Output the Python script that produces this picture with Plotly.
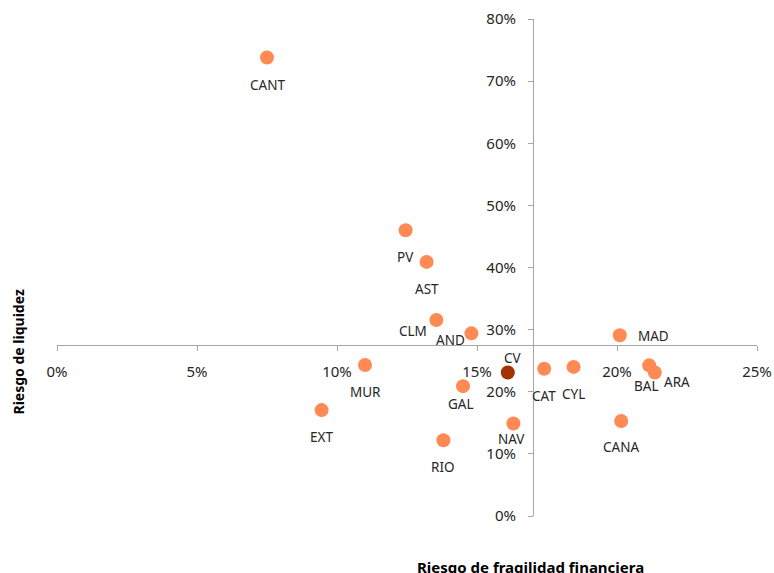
import plotly.graph_objects as go

# ---- data ----
regiones = ["CANT", "PV", "AST", "CLM", "AND", "MAD", "MUR", "CV", "CAT", "CYL",
            "BAL", "ARA", "GAL", "EXT", "CANA", "NAV", "RIO"]
riesgo_fragilidad = [0.075, 0.1245, 0.132, 0.1355, 0.148, 0.201, 0.110, 0.161, 0.174, 0.1845,
                     0.2115, 0.2135, 0.145, 0.0945, 0.2015, 0.163, 0.138]
riesgo_liquidez = [0.738, 0.460, 0.409, 0.3155, 0.294, 0.291, 0.243, 0.231, 0.237, 0.240,
                   0.2425, 0.231, 0.209, 0.1705, 0.153, 0.149, 0.122]
destacada = "CV"
cruce_x = 0.17    # vertical axis crosses here
cruce_y = 0.275   # horizontal axis crosses here
x_ticks = [0, 0.05, 0.10, 0.15, 0.20, 0.25]
y_ticks = [0, 0.1, 0.2, 0.3, 0.4, 0.5, 0.6, 0.7, 0.8]

# ---- styles ----
naranja = "#FF8A53"
granate = "#A33200"
colores = [granate if r == destacada else naranja for r in regiones]
# label offsets in pixels (dx, dy downwards)
label_off = {
    "CANT": (0, 27), "PV": (0, 27), "AST": (0, 27), "CLM": (-23, 11), "AND": (-21, 7),
    "MAD": (34, 1), "MUR": (0, 27), "CV": (5, -14), "CAT": (0, 27), "CYL": (0, 27),
    "BAL": (-3, 21), "ARA": (22, 10), "GAL": (-2, 18), "EXT": (0, 27), "CANA": (0, 26),
    "NAV": (-2, 16), "RIO": (0, 27),
}
FONT = "Noto Sans"
TXT = "#262626"
AX = "#A6A6A6"

W, H = 774, 573
L, R, T, B = 57, 17, 19, 57

fig = go.Figure()
fig.add_trace(go.Scatter(
    x=riesgo_fragilidad, y=riesgo_liquidez, mode="markers",
    marker=dict(size=14, color=colores, line=dict(width=0)),
    text=regiones, hoverinfo="text", showlegend=False,
))

annotations = []
for r, xv, yv in zip(regiones, riesgo_fragilidad, riesgo_liquidez):
    dx, dy = label_off[r]
    annotations.append(dict(
        x=xv, y=yv, xref="x", yref="y", text=r, showarrow=False,
        xanchor="center", yanchor="middle",
        xshift=dx, yshift=-dy, font=dict(family=FONT, size=13.5, color=TXT),
    ))

def px_to_paper(px, py):
    return (px - L) / (W - L - R), (H - B - py) / (H - T - B)

tx, ty = px_to_paper(530, 567)
annotations.append(dict(
    x=tx, y=ty, xref="paper", yref="paper", text="<b>Riesgo de fragilidad financiera</b>",
    xanchor="center", yanchor="middle",
    showarrow=False, font=dict(family=FONT, size=15, color="#000000"),
))
tx, ty = px_to_paper(17.5, 352)
annotations.append(dict(
    x=tx, y=ty, xref="paper", yref="paper", text="<b>Riesgo de liquidez</b>",
    xanchor="center", yanchor="middle",
    textangle=-90, showarrow=False, font=dict(family=FONT, size=14, color="#000000"),
))

fig.update_layout(
    width=W, height=H,
    margin=dict(l=L, r=R, t=T, b=B, autoexpand=False),
    paper_bgcolor="white", plot_bgcolor="white",
    annotations=annotations,
    xaxis=dict(
        range=[0, 0.25], tickvals=x_ticks, tickformat=".0%", automargin=False,
        showgrid=False, zeroline=False, showline=True, linecolor=AX, linewidth=1,
        ticks="outside", ticklen=5, tickcolor=AX,
        anchor="free", position=cruce_y / 0.8,
        tickfont=dict(family=FONT, size=15, color=TXT), ticklabelstandoff=8,
    ),
    yaxis=dict(
        range=[0, 0.8], tickvals=y_ticks, tickformat=".0%", automargin=False,
        showgrid=False, zeroline=False, showline=True, linecolor=AX, linewidth=1,
        ticks="outside", ticklen=5, tickcolor=AX,
        anchor="free", position=cruce_x / 0.25,
        tickfont=dict(family=FONT, size=15, color=TXT), ticklabelstandoff=9,
    ),
)

fig.write_html(
    "out.html",
    config={"displayModeBar": False},
    post_script="document.body.style.margin='0';document.body.style.overflow='hidden';",
)
